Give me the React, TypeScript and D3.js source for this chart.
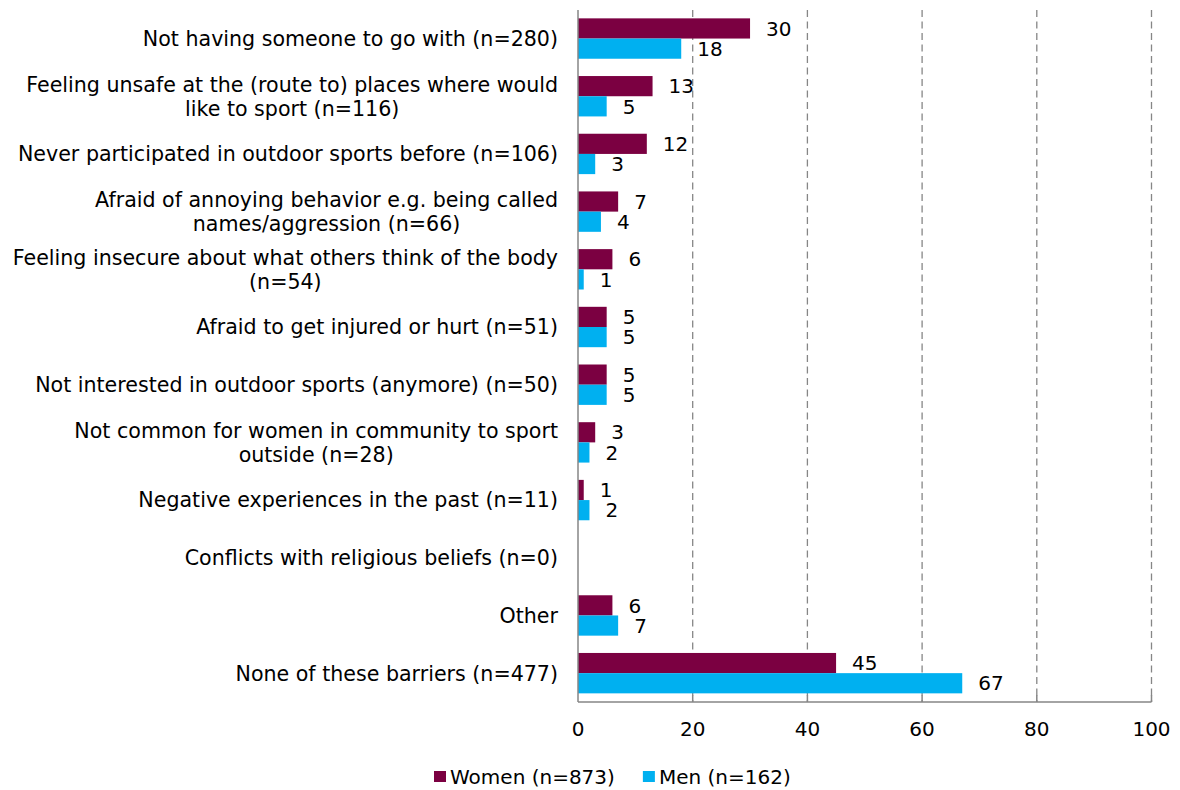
import React, { useEffect, useRef } from 'react';
import * as d3 from 'd3';

const categories: string[] = [
  'Not having someone to go with (n=280)',
  'Feeling unsafe at the (route to) places where would\nlike to sport (n=116)',
  'Never participated in outdoor sports before (n=106)',
  'Afraid of annoying behavior e.g. being called\nnames/aggression (n=66)',
  'Feeling insecure about what others think of the body\n(n=54)',
  'Afraid to get injured or hurt (n=51)',
  'Not interested in outdoor sports (anymore) (n=50)',
  'Not common for women in community to sport\noutside (n=28)',
  'Negative experiences in the past (n=11)',
  'Conflicts with religious beliefs (n=0)',
  'Other',
  'None of these barriers (n=477)',
];
const women: (number | null)[] = [30, 13, 12, 7, 6, 5, 5, 3, 1, null, 6, 45];
const men: (number | null)[] = [18, 5, 3, 4, 1, 5, 5, 2, 2, null, 7, 67];
const xTicks: number[] = [0, 20, 40, 60, 80, 100];
const seriesNames: string[] = ['Women (n=873)', 'Men (n=162)'];
const seriesColors: string[] = ['#7B0041', '#00B0F0'];

const FONT = '"DejaVu Sans", sans-serif';
const FS = 20;
const CAT_FS = 20.6;

export default function App() {
  const ref = useRef<SVGSVGElement>(null);
  useEffect(() => {
    const svg = d3.select(ref.current!);
    svg.selectAll('*').remove();
    const x = d3.scaleLinear().domain([0, 100]).range([578, 1151.5]);
    const y = d3.scaleBand<string>().domain(categories).range([9.7, 702]).paddingInner(0.3).paddingOuter(0.15);
    const sub = d3.scaleBand<number>().domain([0, 1]).range([0, y.bandwidth()]);
    const g = svg.append('g').attr('font-family', FONT).attr('font-size', FS).attr('fill', '#000');

    // gridlines
    g.selectAll('line.grid').data(xTicks.filter(t => t > 0)).join('line')
      .attr('x1', d => x(d)).attr('x2', d => x(d)).attr('y1', 10).attr('y2', 702)
      .attr('stroke', '#868686').attr('stroke-width', 1.3).attr('stroke-dasharray', '7,4.5');

    const series = [women, men];
    series.forEach((vals, si) => {
      const data = categories.map((c, i) => ({ c, v: vals[i] })).filter(d => d.v !== null) as { c: string; v: number }[];
      g.selectAll(`rect.s${si}`).data(data).join('rect')
        .attr('x', x(0)).attr('y', d => y(d.c)! + sub(si)!)
        .attr('width', d => x(d.v) - x(0)).attr('height', sub.bandwidth())
        .attr('fill', seriesColors[si]);
      g.selectAll(`text.l${si}`).data(data).join('text')
        .attr('x', d => x(d.v) + 16).attr('y', d => y(d.c)! + sub(si)! + sub.bandwidth() / 2)
        .attr('dy', '0.36em').text(d => String(d.v));
    });

    // axes
    g.append('line').attr('x1', x(0)).attr('x2', x(0)).attr('y1', 10).attr('y2', 702).attr('stroke', '#868686').attr('stroke-width', 1.5);
    g.append('line').attr('x1', x(0)).attr('x2', x(100)).attr('y1', 702).attr('y2', 702).attr('stroke', '#868686').attr('stroke-width', 1.5);
    g.selectAll('line.tick').data(xTicks.filter(t => t > 0)).join('line')
      .attr('x1', d => x(d)).attr('x2', d => x(d)).attr('y1', 695).attr('y2', 702)
      .attr('stroke', '#868686').attr('stroke-width', 1.5);
    g.selectAll('text.xt').data(xTicks).join('text')
      .attr('x', d => x(d)).attr('y', 729).attr('dy', '0.36em').attr('text-anchor', 'middle').text(d => String(d));

    // category labels
    const lineH = 24;
    categories.forEach(c => {
      const lines = c.split('\n');
      const grp = g.append('g').attr('font-size', CAT_FS);
      const texts = lines.map((ln, i) => grp.append('text')
        .attr('y', y(c)! + y.bandwidth() / 2 + (i - (lines.length - 1) / 2) * lineH)
        .attr('dy', '0.36em').attr('text-anchor', 'middle').text(ln));
      const widths = texts.map(t => (t.node() as SVGTextElement).getComputedTextLength());
      const w = Math.max(...widths);
      const cx = 558 - w / 2;
      texts.forEach(t => t.attr('x', cx));
    });

    // legend
    const lg = g.append('g');
    lg.append('rect').attr('x', 434).attr('y', 771).attr('width', 12).attr('height', 11).attr('fill', seriesColors[0]);
    const t0 = lg.append('text').attr('x', 450).attr('y', 776.5).attr('dy', '0.36em').text(seriesNames[0]);
    const w0 = (t0.node() as SVGTextElement).getComputedTextLength();
    const mx = 450 + w0 + 28;
    lg.append('rect').attr('x', mx).attr('y', 771).attr('width', 12).attr('height', 11).attr('fill', seriesColors[1]);
    lg.append('text').attr('x', mx + 16).attr('y', 776.5).attr('dy', '0.36em').text(seriesNames[1]);
  }, []);
  return (
    <div style={{ position: 'absolute', left: 0, top: 0 }}>
      <svg ref={ref} width={1180} height={790} style={{ display: 'block', background: '#fff' }} />
    </div>
  );
}
